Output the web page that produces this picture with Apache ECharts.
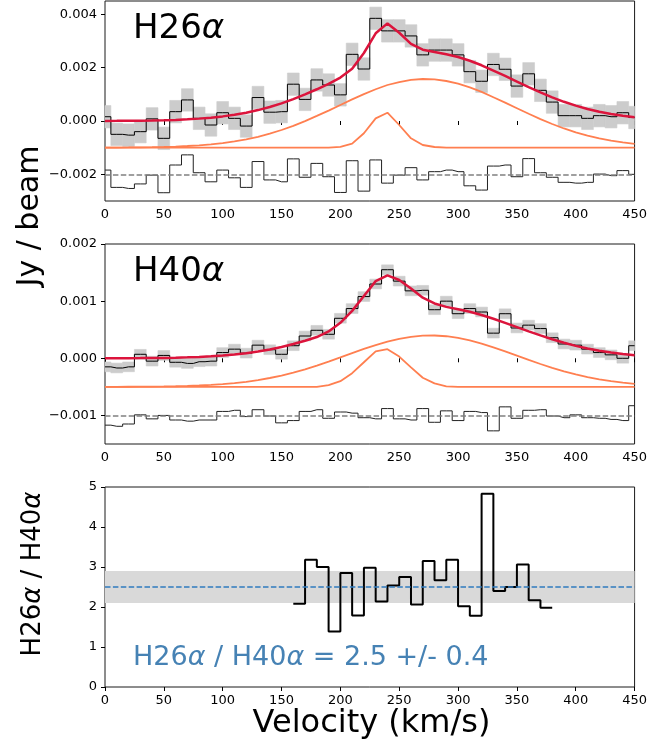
<!DOCTYPE html>
<html>
<head>
<meta charset="utf-8">
<script src="https://cdn.jsdelivr.net/npm/echarts@6/dist/echarts.min.js"></script>
<style>
  html, body { margin: 0; padding: 0; background: #fff; }
  #chart { width: 650px; height: 745px; }
</style>
</head>
<body>
<div id="chart"></div>
<script>
// velocity channels (km/s), values in mJy/beam
const velocity = [0, 10, 20, 30, 40, 50, 60, 70, 80, 90, 100, 110, 120, 130, 140, 150, 160, 170, 180, 190,
  200, 210, 220, 230, 240, 250, 260, 270, 280, 290, 300, 310, 320, 330, 340, 350, 360, 370, 380, 390,
  400, 410, 420, 430, 440, 450];

const h26Data = [0.16, -0.50, -0.53, -0.40, 0.08, -0.65, 0.35, 0.79, 0.10, -0.15, 0.31, 0.10, -0.19, 0.88, 0.33, 0.35,
  1.38, 0.81, 1.54, 1.35, 0.98, 2.50, 1.95, 3.85, 3.38, 3.38, 3.19, 2.48, 2.66, 2.66, 2.48, 1.85, 1.49, 2.12, 1.94,
  1.31, 1.77, 1.15, 0.71, 0.20, 0.20, 0.10, 0.20, 0.16, 0.31, 0.13];
const h26Fit = [0.003, 0.005, 0.008, 0.012, 0.019, 0.029, 0.042, 0.062, 0.089, 0.125, 0.173, 0.234, 0.312, 0.409,
  0.525, 0.662, 0.82, 0.996, 1.19, 1.39, 1.63, 1.96, 2.55, 3.29, 3.66, 3.31, 2.89, 2.675, 2.585, 2.50, 2.40, 2.26,
  2.09, 1.89, 1.69, 1.48, 1.27, 1.07, 0.888, 0.72, 0.577, 0.452, 0.348, 0.263, 0.195, 0.143];
const h26Broad = [0.003, 0.005, 0.008, 0.012, 0.019, 0.029, 0.042, 0.062, 0.089, 0.125, 0.173, 0.234, 0.312, 0.409,
  0.525, 0.662, 0.82, 0.996, 1.19, 1.39, 1.60, 1.81, 2.01, 2.19, 2.35, 2.46, 2.54, 2.575, 2.56, 2.50, 2.40, 2.26,
  2.09, 1.89, 1.69, 1.48, 1.27, 1.07, 0.888, 0.72, 0.577, 0.452, 0.348, 0.263, 0.195, 0.143];
const h26Narrow = [0, 0, 0, 0, 0, 0, 0, 0, 0, 0, 0, 0, 0, 0, 0, 0, 0, 0, 0, 0,
  0.03, 0.15, 0.54, 1.10, 1.31, 0.85, 0.35, 0.10, 0.025, 0, 0, 0, 0, 0, 0, 0, 0, 0, 0, 0, 0, 0, 0, 0, 0, 0];
const h26Resid = [0.16, -0.49, -0.53, -0.36, -0.03, -0.69, 0.35, 0.73, 0.06, -0.28, 0.16, -0.13, -0.49, 0.48, -0.21,
  -0.28, 0.58, -0.11, 0.41, -0.09, -0.68, 0.51, -0.63, 0.54, -0.33, -0.03, 0.25, -0.21, 0.10, 0.16, 0.10, -0.43,
  -0.59, 0.31, 0.35, -0.09, 0.59, 0.06, -0.11, -0.30, -0.33, -0.30, 0.01, -0.05, 0.14, 0.00];
const h26Err = 0.42;

const h40Data = [-0.15, -0.17, -0.15, 0.07, -0.05, 0.05, -0.07, -0.09, -0.06, -0.05, 0.10, 0.16, 0.09, 0.23, 0.15,
  0.07, 0.22, 0.39, 0.49, 0.42, 0.70, 0.87, 1.08, 1.30, 1.55, 1.35, 1.18, 1.19, 0.85, 1.00, 0.78, 0.87, 0.81, 0.44,
  0.78, 0.53, 0.58, 0.52, 0.36, 0.25, 0.23, 0.16, 0.10, 0.06, 0.00, 0.22];
const h40Fit = [0.001, 0.001, 0.002, 0.003, 0.005, 0.007, 0.011, 0.016, 0.024, 0.034, 0.048, 0.066, 0.089, 0.118,
  0.155, 0.198, 0.249, 0.307, 0.372, 0.47, 0.62, 0.83, 1.09, 1.35, 1.45, 1.37, 1.22, 1.06, 0.96, 0.90, 0.857, 0.813,
  0.757, 0.691, 0.620, 0.546, 0.472, 0.400, 0.333, 0.272, 0.217, 0.171, 0.132, 0.100, 0.075, 0.054];
const h40Broad = [0.001, 0.001, 0.002, 0.003, 0.005, 0.007, 0.011, 0.016, 0.024, 0.034, 0.048, 0.066, 0.089, 0.118,
  0.155, 0.198, 0.249, 0.307, 0.372, 0.442, 0.516, 0.591, 0.663, 0.732, 0.792, 0.840, 0.876, 0.896, 0.899, 0.886,
  0.857, 0.813, 0.757, 0.691, 0.620, 0.546, 0.472, 0.400, 0.333, 0.272, 0.217, 0.171, 0.132, 0.100, 0.075, 0.054];
const h40Narrow = [0, 0, 0, 0, 0, 0, 0, 0, 0, 0, 0, 0, 0, 0, 0, 0, 0, 0, 0,
  0.03, 0.10, 0.24, 0.43, 0.62, 0.66, 0.53, 0.34, 0.16, 0.06, 0.01, 0, 0, 0, 0, 0, 0, 0, 0, 0, 0, 0, 0, 0, 0, 0, 0];
const h40Resid = [-0.17, -0.19, -0.15, 0.01, -0.06, 0.00, -0.08, -0.10, -0.08, -0.08, 0.07, 0.09, -0.02, 0.10, -0.01,
  -0.13, -0.09, 0.07, 0.10, -0.05, 0.06, 0.04, -0.04, -0.06, 0.12, -0.06, -0.08, 0.12, -0.12, 0.08, -0.09, 0.07,
  0.05, -0.27, 0.15, -0.05, 0.09, 0.10, -0.01, -0.04, 0.01, -0.04, -0.05, -0.07, -0.09, 0.17];
const h40Err = 0.085;

// line ratio, bin edges 160..380 km/s
const ratioEdges = [160, 170, 180, 190, 200, 210, 220, 230, 240, 250, 260, 270, 280, 290, 300, 310, 320, 330, 340,
  350, 360, 370, 380];
const ratioValues = [2.08, 3.18, 3.00, 1.39, 2.85, 1.79, 2.98, 2.14, 2.54, 2.75, 2.06, 3.15, 2.67, 3.18, 2.02, 1.78,
  4.83, 2.40, 2.50, 3.06, 2.17, 1.98];
const ratioMean = 2.5;
const ratioErr = 0.4;

const h26Ticks = [-2, 0, 2, 4];
const h40Ticks = [-1, 0, 1, 2];

const FONT = 'DejaVu Sans';
const chart = echarts.init(document.getElementById('chart'));

const pair = (ys, offset) => velocity.map((v, i) => [v, ys[i] + offset]);
const jyLabel = v => (v < 0 ? '\u2212' : '') + (Math.abs(v) / 1000).toFixed(3);

const xAxisBase = idx => ({
  type: 'value', gridIndex: idx, min: 0, max: 450, interval: 50,
  axisLine: {show: false},
  axisTick: {show: true, length: 4, lineStyle: {color: '#000', width: 1}},
  axisLabel: {color: '#000', fontFamily: FONT, fontSize: 13, margin: 7},
  splitLine: {show: false}
});

const yAxisBase = (idx, min, max, ticks, fmt) => ({
  type: 'value', gridIndex: idx, min: min, max: max,
  axisLine: {show: false},
  axisTick: {show: true, length: 4, lineStyle: {color: '#000', width: 1}, customValues: ticks},
  axisLabel: {color: '#000', fontFamily: FONT, fontSize: 13, margin: 8, customValues: ticks, formatter: fmt},
  splitLine: {show: false}
});

const bandSeries = (idx, ys, err) => ({
  type: 'custom', xAxisIndex: idx, yAxisIndex: idx, z: 1,
  data: velocity.map((v, i) => [v, ys[i], err]),
  encode: {x: 0, y: 1},
  renderItem: (params, api) => {
    const x = api.value(0), y = api.value(1), e = api.value(2);
    const p0 = api.coord([Math.max(x - 5, 0), y + e]);
    const p1 = api.coord([Math.min(x + 5, 450), y - e]);
    return {
      type: 'rect',
      shape: {x: p0[0], y: p0[1], width: p1[0] - p0[0], height: p1[1] - p0[1]},
      style: {fill: '#cccccc', stroke: '#cccccc', lineWidth: 0.6}
    };
  }
});

const lineSeries = (idx, data, color, width, step, z) => ({
  type: 'line', xAxisIndex: idx, yAxisIndex: idx, data: data, step: step || false,
  showSymbol: false, symbol: 'none', z: z,
  lineStyle: {color: color, width: width}
});

const dashedAt = (y, color, width) => ({
  silent: true, symbol: 'none', label: {show: false},
  lineStyle: {color: color, width: width, type: [5.5, 2.4]},
  data: [{yAxis: y}]
});

const panelSeries = (idx, data, fit, broad, narrow, resid, err, compBase, residBase) => {
  const resSeries = lineSeries(idx, pair(resid, residBase), '#222', 1, 'middle', 3);
  resSeries.markLine = dashedAt(residBase, '#808080', 1.5);
  return [
    bandSeries(idx, data, err),
    lineSeries(idx, pair(data, 0), '#000', 1, 'middle', 3),
    lineSeries(idx, pair(fit, 0), '#dc143c', 2.5, false, 5),
    lineSeries(idx, pair(broad, compBase), '#ff7f50', 1.8, false, 4),
    lineSeries(idx, pair(narrow, compBase), '#ff7f50', 1.8, false, 4),
    resSeries
  ];
};

const ratioSeries = lineSeries(2, ratioEdges.map((x, i) => [x, ratioValues[Math.min(i, ratioValues.length - 1)]]),
  '#000', 2, 'end', 4);
ratioSeries.markLine = dashedAt(ratioMean, '#2f7bbf', 1.5);
ratioSeries.markArea = {
  silent: true,
  itemStyle: {color: '#d9d9d9'},
  data: [[{yAxis: ratioMean - ratioErr}, {yAxis: ratioMean + ratioErr}]]
};

const option = {
  animation: false,
  backgroundColor: '#fff',
  grid: [
    {left: 105, top: 1, width: 533, height: 200, show: true, borderColor: '#1a1a1a', borderWidth: 1},
    {left: 105, top: 244, width: 533, height: 200, show: true, borderColor: '#1a1a1a', borderWidth: 1},
    {left: 105, top: 487, width: 533, height: 200, show: true, borderColor: '#1a1a1a', borderWidth: 1}
  ],
  xAxis: [xAxisBase(0), xAxisBase(1), xAxisBase(2)],
  yAxis: [
    yAxisBase(0, -3, 4.5, h26Ticks, jyLabel),
    yAxisBase(1, -1.5, 2, h40Ticks, jyLabel),
    Object.assign(yAxisBase(2, 0, 5, null, v => String(v)), {interval: 1})
  ],
  series: [
    ...panelSeries(0, h26Data, h26Fit, h26Broad, h26Narrow, h26Resid, h26Err, -1, -2),
    ...panelSeries(1, h40Data, h40Fit, h40Broad, h40Narrow, h40Resid, h40Err, -0.5, -1),
    ratioSeries
  ],
  graphic: [
    {
      type: 'text', x: 133, y: 29, z: 10,
      style: {
        text: '{r|H26}{i|α}', verticalAlign: 'middle', fill: '#000',
        rich: {r: {fontFamily: FONT, fontSize: 34, fill: '#000'},
               i: {fontFamily: FONT, fontSize: 34, fontStyle: 'italic', fill: '#000'}}
      }
    },
    {
      type: 'text', x: 133, y: 272, z: 10,
      style: {
        text: '{r|H40}{i|α}', verticalAlign: 'middle', fill: '#000',
        rich: {r: {fontFamily: FONT, fontSize: 34, fill: '#000'},
               i: {fontFamily: FONT, fontSize: 34, fontStyle: 'italic', fill: '#000'}}
      }
    },
    {
      type: 'text', x: 133, y: 658, z: 10,
      style: {
        text: '{r|H26}{i|α}{r| / H40}{i|α}{r| = 2.5 +/- 0.4}', verticalAlign: 'middle',
        rich: {r: {fontFamily: FONT, fontSize: 27, fill: '#4682b4'},
               i: {fontFamily: FONT, fontSize: 27, fontStyle: 'italic', fill: '#4682b4'}}
      }
    },
    {
      type: 'text', x: 371.5, y: 724, z: 10,
      style: {text: 'Velocity (km/s)', fontFamily: FONT, fontSize: 32, fill: '#000',
              align: 'center', verticalAlign: 'middle'}
    },
    {
      type: 'text', x: 30, y: 216, rotation: Math.PI / 2, z: 10,
      style: {text: 'Jy / beam', fontFamily: FONT, fontSize: 30, fill: '#000',
              align: 'center', verticalAlign: 'middle'}
    },
    {
      type: 'text', x: 33, y: 574, rotation: Math.PI / 2, z: 10,
      style: {
        text: '{r|H26}{i|α}{r| / H40}{i|α}', align: 'center', verticalAlign: 'middle',
        rich: {r: {fontFamily: FONT, fontSize: 26, fill: '#000'},
               i: {fontFamily: FONT, fontSize: 26, fontStyle: 'italic', fill: '#000'}}
      }
    }
  ]
};

chart.setOption(option);
</script>
</body>
</html>
